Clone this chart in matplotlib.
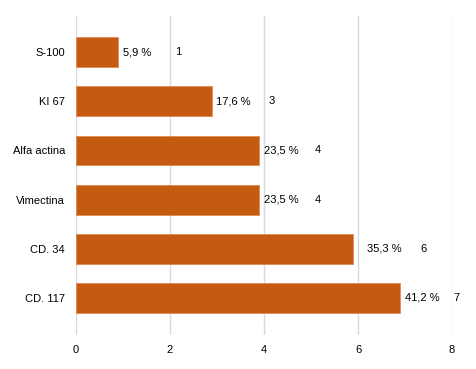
import matplotlib
matplotlib.use("Agg")
import matplotlib.pyplot as plt

categories = ["S-100", "KI 67", "Alfa actina", "Vimectina", "CD. 34", "CD. 117"]
bar_values = [0.9, 2.9, 3.9, 3.9, 5.9, 6.9]
pct_labels = ["5,9 %", "17,6 %", "23,5 %", "23,5 %", "35,3 %", "41,2 %"]
count_labels = ["1", "3", "4", "4", "6", "7"]
x_ticks = [0, 2, 4, 6, 8]

# label offsets in pixels (from bar end)
pct_offsets = [5, 4, 5, 5, 14, 5]
count_offsets = [57, 56, 55, 55, 67, 53]

plt.rcParams['font.family'] = ['Liberation Sans', 'DejaVu Sans']

fig = plt.figure(figsize=(4.76, 3.69), dpi=100)
ax = fig.add_axes([76/476, 1-335/369, (452-76)/476, (335-16)/369])

ypos = list(range(len(categories)))
ax.barh(ypos, bar_values, height=0.61, color="#c55a11", edgecolor="#e08a55",
        linewidth=0.6, zorder=3)

px = 72/100
fs = 8
for y, v, p, c, po, co in zip(ypos, bar_values, pct_labels, count_labels, pct_offsets, count_offsets):
    ax.annotate(p, (v, y), xytext=(po*px, 0), textcoords="offset points",
                ha="left", va="center", fontsize=fs, color="black")
    ax.annotate(c, (v, y), xytext=(co*px, 0), textcoords="offset points",
                ha="left", va="center", fontsize=fs, color="black")

ax.set_xlim(0, 8)
ax.set_ylim(5.76, -0.74)
ax.set_xticks(x_ticks)
ax.set_xticklabels([str(t) for t in x_ticks])
ax.set_yticks(ypos)
ax.set_yticklabels(categories)
ax.tick_params(axis="both", length=0, labelsize=fs, colors="black")
ax.tick_params(axis="y", pad=8)
ax.tick_params(axis="x", pad=7)
ax.grid(axis="x", color="#d9d9d9", linewidth=1.0, zorder=0)
for s in ax.spines.values():
    s.set_visible(False)

fig.savefig("out.png", dpi=100)
